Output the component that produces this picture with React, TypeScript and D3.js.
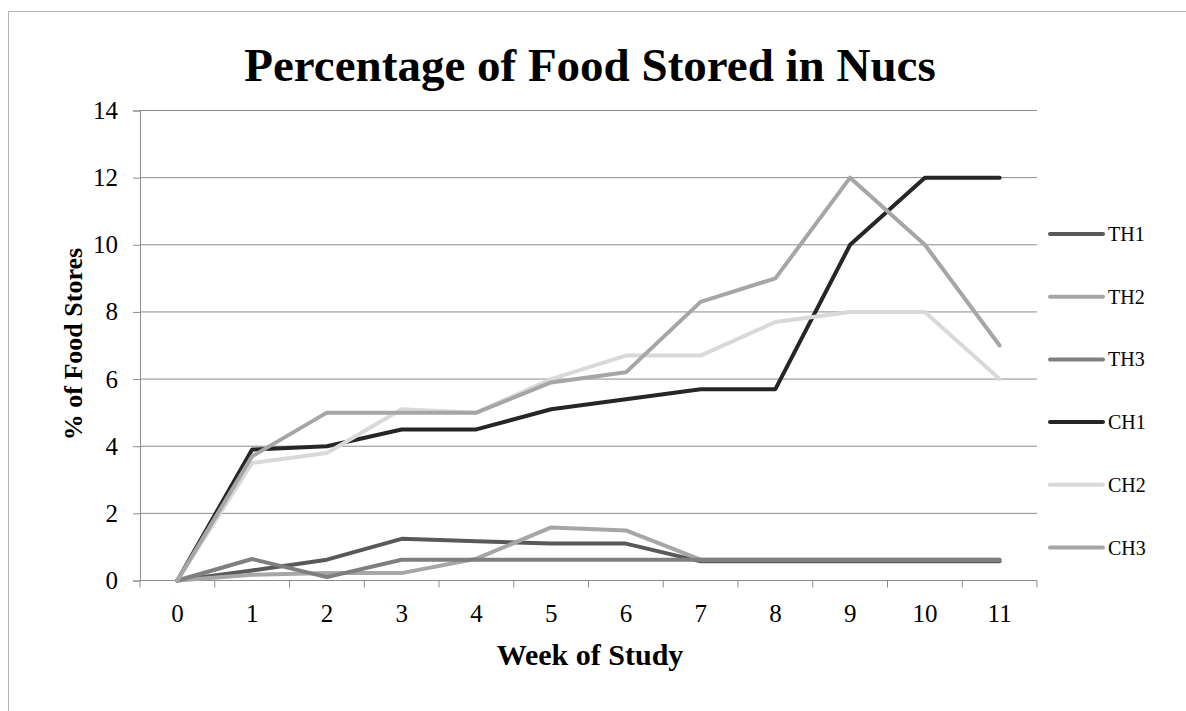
import { useEffect, useRef } from "react";
import * as d3 from "d3";

const WEEKS = ["0", "1", "2", "3", "4", "5", "6", "7", "8", "9", "10", "11"];
const Y_TICKS = [0, 2, 4, 6, 8, 10, 12, 14];

const TH1 = [0, 0.3, 0.62, 1.24, 1.17, 1.1, 1.1, 0.57, 0.57, 0.57, 0.57, 0.57];
const TH2 = [0, 0.17, 0.22, 0.22, 0.65, 1.58, 1.49, 0.62, 0.62, 0.62, 0.62, 0.62];
const TH3 = [0, 0.64, 0.1, 0.62, 0.62, 0.62, 0.62, 0.62, 0.62, 0.62, 0.62, 0.62];
const CH1 = [0, 3.9, 4.0, 4.5, 4.5, 5.1, 5.4, 5.7, 5.7, 10, 12, 12];
const CH2 = [0, 3.5, 3.8, 5.1, 5.0, 6.0, 6.7, 6.7, 7.7, 8.0, 8.0, 6.0];
const CH3 = [0, 3.7, 5.0, 5.0, 5.0, 5.9, 6.2, 8.3, 9.0, 12, 10, 7.0];

const SERIES_NAMES = ["TH1", "TH2", "TH3", "CH1", "CH2", "CH3"];
const SERIES_VALUES = [TH1, TH2, TH3, CH1, CH2, CH3];
const COLORS = ["#595959", "#a6a6a6", "#7f7f7f", "#262626", "#d9d9d9", "#a6a6a6"];

const W = 1186;
const H = 711;
// plot area in page pixels
const plot = { left: 140, right: 1037, top: 110.5, bottom: 580.5 };
const FONT = "'Liberation Serif', 'Times New Roman', serif";
const GRID = "#8c8c8c";

export default function App() {
  const ref = useRef<SVGSVGElement>(null);

  useEffect(() => {
    const svg = d3.select(ref.current);
    svg.selectAll("*").remove();

    // outer chart border (cut off at right / bottom in the original)
    svg
      .append("rect")
      .attr("x", 8.5)
      .attr("y", 11.5)
      .attr("width", W + 20)
      .attr("height", H + 20)
      .attr("fill", "none")
      .attr("stroke", "#b5b5b5");

    const x = d3.scaleBand().domain(WEEKS).range([plot.left, plot.right]);
    const y = d3.scaleLinear().domain([0, 14]).range([plot.bottom, plot.top]);

    // horizontal gridlines
    svg
      .append("g")
      .selectAll("line")
      .data(Y_TICKS)
      .join("line")
      .attr("x1", plot.left)
      .attr("x2", plot.right)
      .attr("y1", (d) => y(d))
      .attr("y2", (d) => y(d))
      .attr("stroke", GRID)
      .attr("stroke-width", 1);

    // y axis
    const yAxis = svg
      .append("g")
      .attr("transform", `translate(${plot.left},0)`)
      .call(d3.axisLeft(y).tickValues(Y_TICKS).tickSize(7).tickPadding(15));
    yAxis.attr("font-family", FONT).attr("font-size", 25);
    yAxis.select(".domain").attr("stroke", GRID);
    yAxis.selectAll(".tick line").attr("stroke", GRID);
    yAxis.selectAll(".tick text").attr("fill", "#000");

    // x axis: ticks at category boundaries, labels at centres
    const xAxis = svg.append("g").attr("transform", `translate(0,${plot.bottom})`);
    xAxis
      .append("line")
      .attr("x1", plot.left)
      .attr("x2", plot.right)
      .attr("stroke", GRID);
    const bounds = WEEKS.map((w) => x(w)!).concat([plot.right]);
    xAxis
      .selectAll("line.tk")
      .data(bounds)
      .join("line")
      .attr("class", "tk")
      .attr("x1", (d) => d)
      .attr("x2", (d) => d)
      .attr("y1", 0)
      .attr("y2", 7)
      .attr("stroke", GRID);
    xAxis
      .selectAll("text")
      .data(WEEKS)
      .join("text")
      .attr("x", (d) => x(d)! + x.bandwidth() / 2)
      .attr("y", 41)
      .attr("text-anchor", "middle")
      .attr("font-family", FONT)
      .attr("font-size", 25)
      .text((d) => d);

    // lines
    const line = d3
      .line<number>()
      .x((_, i) => x(WEEKS[i])! + x.bandwidth() / 2)
      .y((d) => y(d));
    svg
      .append("g")
      .selectAll("path")
      .data(SERIES_VALUES)
      .join("path")
      .attr("d", (d) => line(d))
      .attr("fill", "none")
      .attr("stroke", (_, i) => COLORS[i])
      .attr("stroke-width", 4)
      .attr("stroke-linejoin", "round")
      .attr("stroke-linecap", "round");

    // legend
    const legend = svg
      .append("g")
      .selectAll("g")
      .data(SERIES_NAMES)
      .join("g")
      .attr("transform", (_, i) => `translate(1050,${234 + i * 62.7})`);
    legend
      .append("line")
      .attr("x1", 0)
      .attr("x2", 53)
      .attr("stroke", (_, i) => COLORS[i])
      .attr("stroke-width", 4)
      .attr("stroke-linecap", "round");
    legend
      .append("text")
      .attr("x", 58)
      .attr("y", 7)
      .attr("font-family", FONT)
      .attr("font-size", 20)
      .text((d) => d);

    // titles
    svg
      .append("text")
      .attr("x", 590)
      .attr("y", 81)
      .attr("text-anchor", "middle")
      .attr("font-family", FONT)
      .attr("font-size", 47)
      .attr("font-weight", "bold")
      .text("Percentage of Food Stored in Nucs");
    svg
      .append("text")
      .attr("x", 590)
      .attr("y", 665)
      .attr("text-anchor", "middle")
      .attr("font-family", FONT)
      .attr("font-size", 30)
      .attr("font-weight", "bold")
      .text("Week of Study");
    svg
      .append("text")
      .attr("transform", `translate(82,344) rotate(-90)`)
      .attr("text-anchor", "middle")
      .attr("font-family", FONT)
      .attr("font-size", 26)
      .attr("font-weight", "bold")
      .text("% of Food Stores");
  }, []);

  return (
    <svg
      ref={ref}
      width={W}
      height={H}
      style={{ position: "absolute", left: 0, top: 0, background: "#fff" }}
    />
  );
}
